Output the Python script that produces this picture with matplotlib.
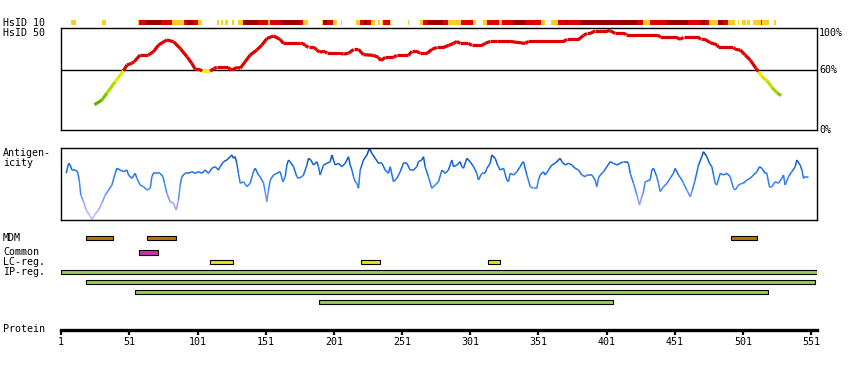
import matplotlib
matplotlib.use('Agg')
import matplotlib.pyplot as plt
import numpy as np
from matplotlib.collections import LineCollection
from matplotlib.colors import LinearSegmentedColormap

W, H = 850, 370
PROT_LEN = 555
FONT = 'DejaVu Sans Mono'

# HsID 50 profile (residue, % identity)
hsid50_pos = [25.4, 30.8, 34.5, 40.6, 46.7, 49.2, 52.8, 54.5, 58.9, 65.0, 68.7, 72.4, 78.5, 83.4, 88.3,
              93.2, 96.8, 99.3, 102.9, 104.2, 110.3, 112.7, 115.2, 123.7, 124.9, 127.4, 129.9, 132.3, 135.9,
              139.6, 144.5, 148.2, 151.9, 156.7, 161.6, 164.0, 176.3, 178.3, 179.9, 182.4, 186.5, 188.5, 190.4,
              194.6, 195.9, 205.6, 208.0, 211.7, 215.4, 219.0, 222.7, 230.0, 233.7, 235.5, 238.6, 244.7, 247.2,
              255.7, 258.2, 261.9, 264.3, 269.2, 272.9, 276.5, 281.4, 285.0, 288.7, 291.2, 293.6, 299.7, 302.2,
              309.5, 311.9, 315.6, 320.5, 330.3, 341.3, 343.7, 369.4, 371.9, 380.4, 384.0, 386.5, 388.9, 392.6,
              401.2, 403.6, 407.3, 414.6, 415.4, 439.0, 440.3, 452.5, 454.9, 457.4, 468.4, 470.1, 473.3, 477.0,
              481.9, 483.0, 494.0, 495.3, 499.0, 502.6, 506.3, 510.5, 512.4, 514.9, 518.6, 522.2, 525.9, 529.0]
hsid50_val = [25.4, 30, 37, 48.5, 59.6, 65.3, 67, 68.6, 75.4, 75.4, 78.7, 85.4, 90.5, 88.7, 82,
              73.7, 67, 61, 61, 59, 59, 61.6, 63, 63, 61, 61, 63, 62, 68.6,
              75.4, 80.4, 85.4, 92, 94.5, 91, 87, 87, 87, 85, 83, 83, 80.4, 78.4,
              79, 77, 77, 76.4, 77, 81, 81, 75.7, 75, 73, 69.7, 73, 73, 75,
              75, 79, 79, 77, 77, 81, 83, 83, 85, 87, 89, 87, 87, 85,
              85, 87, 89, 89, 89, 87, 89, 89, 91, 91, 95, 97, 97, 99.5,
              99.5, 99.8, 97, 97, 95.5, 95.5, 93, 93, 91, 93, 93, 91, 91, 87.7,
              85.7, 83, 83, 81, 80.4, 75.4, 70.3, 62, 58.6, 53.6, 49.5, 42.9, 37.5, 34.5]

# HsID 10 strip: Y = low, R = mid, D = high
hsid10_start = [8, 31, 57, 58, 63, 74, 82, 91, 93, 98, 101, 115, 118, 121, 126, 131, 134, 145, 153, 154,
                162, 176, 178, 192, 193, 196, 200, 206, 217, 220, 223, 225, 228, 233, 236, 237, 242, 255,
                264, 266, 270, 281, 285, 294, 303, 310, 313, 322, 324, 332, 341, 353, 360, 365, 371, 373,
                382, 423, 428, 433, 437, 445, 461, 470, 473, 476, 483, 486, 490, 497, 500, 504, 508, 514,
                515, 524]
hsid10_end = [12, 34, 58, 63, 74, 82, 91, 93, 98, 101, 104, 117, 120, 123, 128, 134, 145, 153, 154, 162,
              176, 178, 182, 193, 196, 200, 203, 207, 220, 223, 225, 228, 231, 235, 237, 242, 243, 256,
              266, 270, 281, 285, 294, 303, 305, 313, 322, 324, 332, 341, 353, 356, 365, 371, 373, 382,
              423, 428, 433, 437, 445, 461, 470, 473, 476, 483, 486, 490, 495, 498, 503, 506, 514, 515,
              520, 525]
hsid10_cls = ("YYYRDRYRDRY" + "YYYYYDRYRDRYYDRYY" + "YRDRYYYRYYYRDRYRYYRYRD"
              + "RYYRDRDRYRRDRDRYDRYYYYYRYY")

# Antigenicity profile (residue, score)
ag_pos = [4.7, 6.4, 7.6, 8.8, 11.3, 13.0, 14.2, 15.4, 17.4, 19.3, 21.8, 23.7, 25.9, 28.4, 30.8, 33.3, 35.7,
          38.2, 40.6, 41.8, 44.3, 46.7, 49.2, 50.4, 52.8, 55.3, 56.5, 58.9, 61.4, 63.8, 66.3, 67.5, 68.7,
          71.2, 73.6, 75.6, 76.8, 78.5, 80.9, 83.4, 85.3, 87.0, 88.3, 89.5, 91.9, 94.4, 96.8, 99.3, 101.7,
          104.2, 106.6, 109.0, 111.5, 113.9, 116.4, 117.6, 120.0, 122.5, 124.9, 126.2, 127.4, 128.6, 129.8,
          131.0, 132.3, 134.7, 137.2, 139.6, 142.0, 143.3, 145.7, 146.9, 149.4, 150.6, 151.8, 153.0, 154.3,
          156.7, 159.2, 161.6, 163.6, 165.3, 166.5, 167.7, 168.9, 171.4, 173.8, 175.0, 177.5, 178.7, 181.2,
          182.4, 184.1, 186.0, 188.5, 189.7, 190.9, 193.4, 195.8, 198.3, 199.5, 200.7, 201.9, 204.4, 206.8,
          209.3, 211.7, 212.9, 214.2, 215.4, 216.6, 217.8, 219.0, 220.3, 222.7, 225.2, 227.1, 228.8, 231.3,
          233.7, 236.2, 238.6, 241.0, 242.3, 244.7, 247.2, 249.6, 252.0, 254.5, 256.9, 259.4, 261.8, 263.0,
          265.4, 266.7, 267.9, 270.3, 272.8, 275.3, 277.7, 280.2, 282.6, 285.0, 287.5, 288.7, 291.2, 293.6,
          294.8, 296.0, 298.5, 300.9, 303.4, 305.8, 307.0, 309.5, 311.9, 313.2, 315.6, 316.8, 319.3, 321.0,
          322.9, 325.4, 327.8, 329.0, 330.3, 332.7, 335.2, 337.6, 338.8, 340.1, 342.5, 345.0, 347.4, 349.8,
          351.0, 352.3, 354.7, 355.9, 358.4, 360.8, 363.3, 366.9, 368.2, 370.6, 373.0, 375.5, 377.9, 380.4,
          382.8, 385.3, 386.5, 390.2, 392.6, 393.8, 395.0, 396.3, 398.7, 401.2, 403.6, 406.0, 408.5, 410.9,
          413.4, 415.8, 417.0, 418.3, 420.7, 423.2, 425.1, 426.8, 428.0, 429.3, 432.9, 434.2, 435.4, 437.8,
          439.0, 440.3, 442.7, 445.2, 447.6, 450.0, 451.3, 453.7, 456.2, 457.4, 459.8, 462.3, 463.5, 465.9,
          468.4, 470.8, 472.0, 474.5, 476.4, 478.2, 479.4, 480.6, 481.8, 484.3, 486.7, 489.2, 491.6, 494.0,
          495.3, 497.7, 500.2, 501.4, 503.8, 506.3, 508.7, 511.2, 513.1, 514.8, 517.3, 518.5, 520.4, 522.2,
          524.6, 527.0, 529.5, 530.7, 531.9, 534.4, 536.8, 539.3, 540.5, 542.9, 544.2, 545.4, 546.6, 549.0]
ag_val = [46.7, 56.7, 55, 50, 50, 48.3, 40, 25, 18.3, 10, 5, 0.7, 6, 10, 16.7, 25, 30,
          35, 46.7, 51.7, 50, 48.3, 50, 45, 41.7, 46.7, 41.7, 35, 33.3, 30, 31.7, 43.3, 46.7,
          46.7, 46.7, 43.3, 36.7, 26.7, 18.3, 16.7, 10, 20, 35, 43.3, 46.7, 46.7, 48.3, 46.7, 48.3,
          46.7, 50, 46.7, 51.7, 53.3, 50, 53.3, 58.3, 60, 63.3, 65, 61.7, 63.3, 56.7,
          46.7, 36.7, 38.3, 33.3, 36.7, 48.3, 51.7, 45, 43.3, 36.7, 28.3, 18.3, 30, 40,
          45, 46.7, 48.3, 38.3, 43.3, 55, 60, 58.3, 53.3, 43.3, 41.7, 43.3, 45, 55,
          61.7, 60, 55, 58.3, 53.3, 45, 55, 56.7, 58.3, 65, 60, 55, 56.7, 53.3,
          56.7, 63.3, 55, 50, 43.3, 38.3, 36.7, 31.7, 50, 60, 65, 71.7, 66.7, 61.7,
          56.7, 56.7, 50, 46.7, 53.3, 38.3, 41.7, 48.3, 56.7, 56.7, 50, 50, 53.3, 58.3,
          60, 63.3, 53.3, 43.3, 31.7, 35, 38.3, 50, 46.7, 50, 60, 53.3, 55, 58.3,
          53.3, 51.7, 61.7, 58.3, 53.3, 46.7, 40, 46.7, 46.7, 51.7, 56.7, 65, 61.7, 55,
          50, 51.7, 40, 38.3, 46.7, 45, 48.3, 53.3, 56.7, 58.3, 45, 33.3, 31.7, 31.7,
          40, 45, 48.3, 45, 50, 55, 56.7, 61.7, 58.3, 55, 56.7, 55, 51.7, 50,
          45, 43.3, 45, 45, 40, 33.3, 41.7, 45, 48.3, 53.3, 58.3, 56.7, 55, 56.7,
          58.3, 58.3, 56.7, 46.7, 36.7, 25, 15, 23.3, 28.3, 38.3, 40, 50, 51.7, 43.3,
          36.7, 28.3, 33.3, 36.7, 41.7, 46.7, 51.7, 45, 40, 36.7, 30, 23.3, 28.3, 40,
          55, 63.3, 68.3, 63.3, 56.7, 53.3, 45, 36.7, 35, 46.7, 45, 46.7, 43.3, 31.7,
          30, 35, 36.7, 36.7, 40, 41.7, 45, 48.3, 53.3, 51.7, 46.7, 46.7, 33.3, 33.3,
          38.3, 36.7, 41.7, 45, 35, 43.3, 48.3, 53.3, 60, 55, 50, 41.7, 43.3, 42.7]

# Features (residue ranges)
mdm_start, mdm_end = [19, 64, 492], [39, 85, 511]
common_start, common_end = [58], [72]
lc_start, lc_end = [110, 221, 314], [127, 235, 323]
ip_start, ip_end = [1, 19, 55, 190], [555, 554, 519, 406]

ticks = list(range(1, 552, 50))

strip_colors = {'Y': '#ffcc22', 'R': '#dd0000', 'D': '#990000'}

fig = plt.figure(figsize=(W / 100, H / 100), dpi=100)
fig.patch.set_facecolor('white')


def add_ax(x0, y0, x1, y1):
    return fig.add_axes([x0 / W, 1 - y1 / H, (x1 - x0) / W, (y1 - y0) / H])


def label(x, y, s, **kw):
    fig.text(x / W, 1 - y / H, s, family=FONT, fontsize=7.2, va='center', **kw)


XL, XR = 60.5, 817.3
xlim = (0.5, PROT_LEN + 0.5)

# HsID 10 strip
ax10 = add_ax(XL, 19.8, XR, 25.0)
ax10.set_xlim(xlim)
ax10.set_ylim(0, 1)
for s, e, c in zip(hsid10_start, hsid10_end, hsid10_cls):
    ax10.broken_barh([(s, e - s)], (0, 1), color=strip_colors[c], linewidth=0)
ax10.axis('off')

# HsID 50 plot
ax50 = add_ax(XL, 28.3, XR, 130)
ax50.set_xlim(xlim)
ax50.set_ylim(0, 102.2)
ax50.axhline(60, color='black', lw=1.0)
low_cmap = LinearSegmentedColormap.from_list('low', ['#55aa00', '#aadd00', '#ffee00'])
pts = np.column_stack([hsid50_pos, hsid50_val])
segs = np.stack([pts[:-1], pts[1:]], axis=1)
mids = (np.array(hsid50_val[:-1]) + np.array(hsid50_val[1:])) / 2
cols = ['#dd0000' if m >= 60 else low_cmap(np.clip((m - 25) / 35, 0, 1)) for m in mids]
ax50.add_collection(LineCollection(segs, colors=cols, linewidths=2.3, capstyle='butt'))
ax50.set_xticks([])
ax50.set_yticks([])
for sp in ax50.spines.values():
    sp.set_linewidth(1.0)

# Antigenicity plot
axag = add_ax(XL, 148.3, XR, 220)
axag.set_xlim(xlim)
axag.set_ylim(0, 71.7)
ag_cmap = LinearSegmentedColormap.from_list(
    'ag', [(0, '#ccbbff'), (0.25, '#9999ff'), (0.42, '#4488ff'), (0.7, '#1a6fe6'), (1, '#0044aa')])
pts = np.column_stack([ag_pos, ag_val])
segs = np.stack([pts[:-1], pts[1:]], axis=1)
mids = (np.array(ag_val[:-1]) + np.array(ag_val[1:])) / 2
lc = LineCollection(segs, cmap=ag_cmap, linewidths=1.1)
lc.set_array(mids)
lc.set_clim(0, 71.7)
axag.add_collection(lc)
axag.set_xticks([])
axag.set_yticks([])
for sp in axag.spines.values():
    sp.set_linewidth(1.0)

# Feature bars
axf = add_ax(XL, 230, XR, 310)
axf.set_xlim(xlim)
axf.set_ylim(310, 230)
axf.axis('off')
rows = [
    (mdm_start, mdm_end, [238.0] * 3, '#bb7700', 4.8),
    (common_start, common_end, [252.5], '#cc33aa', 4.3),
    (lc_start, lc_end, [262.0] * 3, '#eedd22', 4.3),
    (ip_start, ip_end, [272.3, 282.3, 292.3, 302.3], '#99cc55', 4.0),
]
for st, en, ys, col, h in rows:
    axf.barh(ys, np.array(en) - np.array(st), left=st, height=h, color=col,
             edgecolor='black', linewidth=0.8)

# Protein axis
axp = add_ax(XL, 320, XR, 330.2)
axp.set_xlim(xlim)
axp.set_yticks([])
for k in ['top', 'left', 'right']:
    axp.spines[k].set_visible(False)
axp.spines['bottom'].set_linewidth(2.4)
axp.set_xticks(ticks)
axp.set_xticklabels([str(t) for t in ticks], family=FONT, fontsize=7.2)
axp.tick_params(axis='x', length=3.5, width=1.6, pad=1.5, direction='out')
axp.patch.set_alpha(0)

# Text labels
label(3, 22.5, 'HsID 10')
label(3, 33.3, 'HsID 50')
label(3, 152.7, 'Antigen-')
label(3, 163.3, 'icity')
label(3, 237.7, 'MDM')
label(3, 252.3, 'Common')
label(3, 262.0, 'LC-reg.')
label(3, 272.3, 'IP-reg.')
label(3, 329.5, 'Protein')
label(819, 32.7, '100%')
label(819, 70.3, '60%')
label(819, 130.0, '0%')

fig.savefig('out.png', dpi=100, facecolor='white')
